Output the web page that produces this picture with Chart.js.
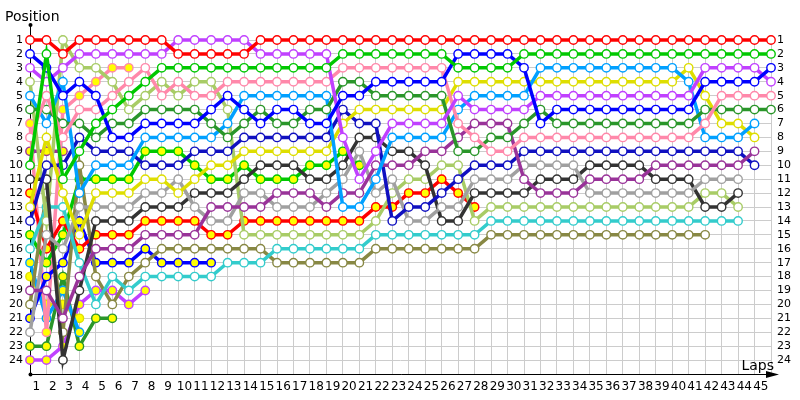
<!DOCTYPE html>
<html><head><meta charset="utf-8">
<script src="https://cdn.jsdelivr.net/npm/chart.js@4.4.1/dist/chart.umd.min.js"></script>
<style>html,body{margin:0;padding:0;background:#fff;}canvas{display:block;}</style>
</head><body>
<canvas id="c" width="800" height="400"></canvas>
<script>
// ---- data (position per lap, index 0 = grid) ----
const lapLabels = ['1','2','3','4','5','6','7','8','9','10','11','12','13','14','15','16','17','18','19','20','21','22','23','24','25','26','27','28','29','30','31','32','33','34','35','36','37','38','39','40','41','42','43','44','45'];
const positionLabels = ['1','2','3','4','5','6','7','8','9','10','11','12','13','14','15','16','17','18','19','20','21','22','23','24'];

const red = [1,1,2,1,1,1,1,1,1,2, 2,2,2,2,1,1,1,1,1,1, 1,1,1,1,1,1,1,1,1,1, 1,1,1,1,1,1,1,1,1,1, 1,1,1,1,1,1];
const violet = [3,4,3,2,2,2,2,2,2,1, 1,1,1,1,2,2,2,2,2,8, 11,9,7,7,7,7,5,6,6,6, 6,5,5,5,5,5,5,5,5,5, 5,3,3,3,3,4];
const green = [10,2,11,9,7,6,5,4,3,3, 3,3,3,3,3,3,3,3,3,2, 2,2,2,2,2,2,3,3,3,3, 2,2,2,2,2,2,2,2,2,2, 2,2,2,2,2,2];
const blue = [2,3,5,4,5,8,8,7,7,7, 7,6,5,6,7,6,6,7,7,5, 5,4,4,4,4,4,2,2,2,2, 3,7,6,6,6,6,6,6,6,6, 6,4,4,4,4,3];
const pink = [8,5,8,6,6,5,4,3,5,4, 5,5,4,4,4,4,4,4,4,3, 3,3,3,3,3,3,7,8,9,9, 8,8,8,8,8,8,8,8,8,8, 8,7,5,5,5,5];
const darkGreen = [6,6,7,7,8,7,7,6,6,6, 6,7,8,7,6,7,7,6,6,4, 4,5,5,5,5,5,9,9,8,8, 7,6,7,7,7,7,7,7,7,7, 7,6,6,6,6,6];
const lightBlue = [5,7,4,12,10,10,10,8,8,8, 8,8,7,5,5,5,5,5,5,13, 13,11,8,8,8,8,6,5,5,5, 5,3,3,3,3,3,3,3,3,3, 4,8,8,8,7];
const yellow = [13,8,12,15,12,12,12,11,11,12, 11,10,10,9,9,9,9,9,9,7, 6,6,6,6,6,6,4,4,4,4, 4,4,4,4,4,4,4,4,4,4, 3,5,7,7,8];
const purple = [19,19,21,18,16,16,16,15,15,15, 15,13,13,13,13,12,12,12,13,12, 12,10,10,10,9,9,8,7,7,7, 11,12,12,12,11,11,11,11,10,10, 10,10,10,10,9];
const navy = [14,10,10,8,9,9,9,10,10,10, 9,9,9,8,8,8,8,8,8,6, 7,7,14,13,13,12,11,10,10,10, 9,9,9,9,9,9,9,9,9,9, 9,9,9,9,10];
const gray = [22,15,16,13,13,13,13,12,12,11, 13,14,14,12,12,13,13,13,12,11, 9,12,11,14,14,13,13,11,11,11, 10,10,10,10,12,12,12,12,12,12, 12,11,11,11];
const black = [11,11,24,19,14,14,14,13,13,13, 12,12,12,11,10,10,10,11,11,10, 8,8,9,9,10,14,14,12,12,12, 12,11,11,11,10,10,10,10,11,11, 11,13,13,12];
const lightGreen = [4,14,1,3,3,4,6,5,4,5, 4,4,6,15,15,15,15,15,15,15, 15,14,12,11,11,10,10,14,13,13, 13,13,13,13,13,13,13,13,13,13, 13,12,12,13];
const cyan = [16,13,13,17,20,18,19,18,18,18, 18,18,17,17,17,16,16,16,16,16, 16,15,15,15,15,15,15,15,14,14, 14,14,14,14,14,14,14,14,14,14, 14,14,14,14];
const olive = [20,12,22,10,18,20,18,17,16,16, 16,16,16,16,16,17,17,17,17,17, 17,16,16,16,16,16,16,16,15,15, 15,15,15,15,15,15,15,15,15,15, 15,15];
const redB = [12,16,14,16,15,15,15,14,14,14, 14,15,15,14,14,14,14,14,14,14, 14,13,13,12,12,11,12,13];
const greenB = [15,17,15,11,11,11,11,9,9,9, 10,11,11,10,11,11,11,10,10,9, 10];
const blueB = [21,18,17,14,17,17,17,16,17,17, 17,17];
const pinkB = [7,22,6,5,4,3,3];
const purpleB = [9,9,9];
const lightBlueB = [17,21,19,22];
const yellowB = [18,20,20,21];
const darkGreenB = [23,23,18,23,21,21];
const violetB = [24,24,23,20,19,19,20,19];

// ---- styles ----
const W = '#ffffff', Y = '#ffff00';
const series = [
  [red, '#ff0000', W], [green, '#00c800', W], [blue, '#0000ff', W], [violet, '#c040ff', W],
  [pink, '#ff88aa', W], [darkGreen, '#2a962a', W], [lightBlue, '#00a0ff', W], [yellow, '#dede00', W],
  [purple, '#993399', W], [navy, '#1010c0', W], [gray, '#a0a0a0', W], [black, '#333333', W],
  [lightGreen, '#a8cc66', W], [cyan, '#33cccc', W], [olive, '#888844', W],
  [redB, '#ff0000', Y], [greenB, '#00c800', Y], [blueB, '#0000ff', Y], [pinkB, '#ff88aa', Y],
  [purpleB, '#993399', Y], [lightBlueB, '#00a0ff', Y], [yellowB, '#dede00', Y],
  [darkGreenB, '#2a962a', Y], [violetB, '#c040ff', Y]
];

const datasets = series.map(([vals, col, fill]) => ({
  data: vals.map((v, i) => ({x: i, y: v})),
  borderColor: col, backgroundColor: col,
  borderWidth: 3.5, pointRadius: 4.2, pointBorderWidth: 1.4,
  pointBackgroundColor: fill, pointBorderColor: col,
  tension: 0, fill: false, clip: false
}));

const FONT = 'DejaVu Sans';
const decor = {
  id: 'decor',
  beforeDatasetsDraw(chart) {
    const ctx = chart.ctx, a = chart.chartArea;
    ctx.save();
    ctx.strokeStyle = '#000'; ctx.fillStyle = '#000'; ctx.lineWidth = 1;
    ctx.beginPath();
    ctx.moveTo(a.left + 0.5, 25); ctx.lineTo(a.left + 0.5, a.bottom + 0.5);
    ctx.lineTo(772, a.bottom + 0.5);
    ctx.stroke();
    ctx.beginPath();
    ctx.moveTo(766, a.bottom - 3); ctx.lineTo(779, a.bottom + 0.5); ctx.lineTo(766, a.bottom + 4);
    ctx.closePath(); ctx.fill();
    ctx.beginPath(); ctx.arc(a.left + 0.5, 25, 2, 0, Math.PI * 2); ctx.fill();
    ctx.beginPath(); ctx.arc(a.left + 0.5, a.bottom + 0.5, 2, 0, Math.PI * 2); ctx.fill();
    ctx.font = '14px "' + FONT + '"';
    ctx.textBaseline = 'alphabetic';
    ctx.textAlign = 'left';
    ctx.fillText('Position', 5, 21);
    ctx.textAlign = 'right';
    ctx.fillText('Laps', 774, 370);
    ctx.restore();
  }
};

new Chart(document.getElementById('c'), {
  type: 'line',
  data: { datasets },
  options: {
    responsive: false, animation: false, events: [],
    layout: { autoPadding: false, padding: { top: 40, left: 0, right: 0, bottom: 0 } },
    plugins: { legend: { display: false }, tooltip: { enabled: false } },
    scales: {
      x: {
        type: 'linear', min: 0, max: 45, position: 'bottom',
        ticks: { display: false, stepSize: 1 },
        grid: { color: '#cccccc', lineWidth: 1, drawTicks: false },
        border: { display: false },
        afterFit: s => { s.height = 0; }
      },
      xl: {
        type: 'linear', min: 0, max: 45, position: 'bottom',
        afterBuildTicks: s => { s.ticks = lapLabels.map((t, i) => ({ value: i + 0.38 })); },
        ticks: {
          autoSkip: false, maxRotation: 0, padding: 6, color: '#000',
          font: { family: FONT, size: 12 },
          callback: (v, i) => lapLabels[i]
        },
        grid: { display: false, drawTicks: false },
        border: { display: false },
        afterFit: s => { s.height = 26; }
      },
      y: {
        type: 'linear', reverse: true, min: 1, max: 25, position: 'left',
        afterBuildTicks: s => { s.ticks = positionLabels.map((t, i) => ({ value: i + 1 })).concat([{ value: 25 }]); },
        ticks: {
          autoSkip: false, padding: 7, color: '#000',
          font: { family: FONT, size: 11 },
          callback: (v, i) => positionLabels[i] || ''
        },
        grid: { color: '#cccccc', lineWidth: 1, drawTicks: false },
        border: { display: false },
        afterFit: s => { s.width = 30; }
      },
      y2: {
        type: 'linear', reverse: true, min: 1, max: 25, position: 'right',
        afterBuildTicks: s => { s.ticks = positionLabels.map((t, i) => ({ value: i + 1 })); },
        ticks: {
          autoSkip: false, padding: 6, color: '#000',
          font: { family: FONT, size: 11 },
          callback: (v, i) => positionLabels[i]
        },
        grid: { display: false, drawTicks: false },
        border: { display: false },
        afterFit: s => { s.width = 29; }
      }
    }
  },
  plugins: [decor]
});
</script>
</body></html>
